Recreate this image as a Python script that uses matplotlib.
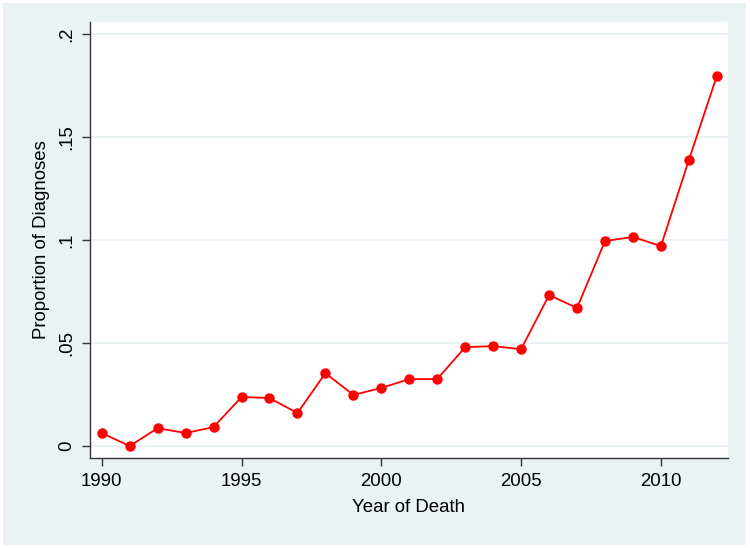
import matplotlib.pyplot as plt
from matplotlib.patches import Rectangle

plt.rcParams['font.family'] = ['Liberation Sans', 'DejaVu Sans']

years = list(range(1990, 2013))
proportion = [0.0063, 0.0, 0.0087, 0.0063, 0.0092, 0.0238, 0.0233, 0.016,
              0.0354, 0.0248, 0.0282, 0.0325, 0.0325, 0.048, 0.0485, 0.047,
              0.0733, 0.067, 0.0995, 0.1015, 0.097, 0.1388, 0.1796]
yticks = [0, 0.05, 0.1, 0.15, 0.2]
ylabels = ["0", ".05", ".1", ".15", ".2"]
xticks = [1990, 1995, 2000, 2005, 2010]

bg = "#EAF2F3"
W, H = 750, 548
fig = plt.figure(figsize=(7.5, 5.48), dpi=100, facecolor="white")
fig.patches.append(Rectangle((3 / W, 3 / H), 743 / W, 542 / H,
                             transform=fig.transFigure, facecolor=bg,
                             edgecolor="none", zorder=-10))

ax = fig.add_axes([90 / W, 1 - 458 / H, 638 / W, 436 / H])
ax.set_facecolor("white")
ax.plot(years, proportion, color="red", lw=1.3, marker="o", ms=7.5,
        markeredgewidth=0, zorder=3)

ax.set_xlim(1989.58, 2012.4)
ax.set_ylim(-0.0058, 0.2058)
ax.set_xticks(xticks)
ax.set_yticks(yticks)
ax.set_yticklabels(ylabels, rotation=90, va="center")
ax.grid(axis="y", color=bg, lw=1.5)
ax.set_axisbelow(True)
for s in ["top", "right"]:
    ax.spines[s].set_visible(False)
for s in ["left", "bottom"]:
    ax.spines[s].set_color("#333333")
    ax.spines[s].set_linewidth(1.0)
ax.tick_params(colors="#333333", length=5.5, width=1.0, labelsize=13.4,
               labelcolor="black", pad=5)
ax.set_xlabel("Year of Death", fontsize=13.4, labelpad=7)
ax.set_ylabel("Proportion of Diagnoses", fontsize=13.4, labelpad=6)

fig.savefig("out.png", dpi=100, facecolor=fig.get_facecolor())
